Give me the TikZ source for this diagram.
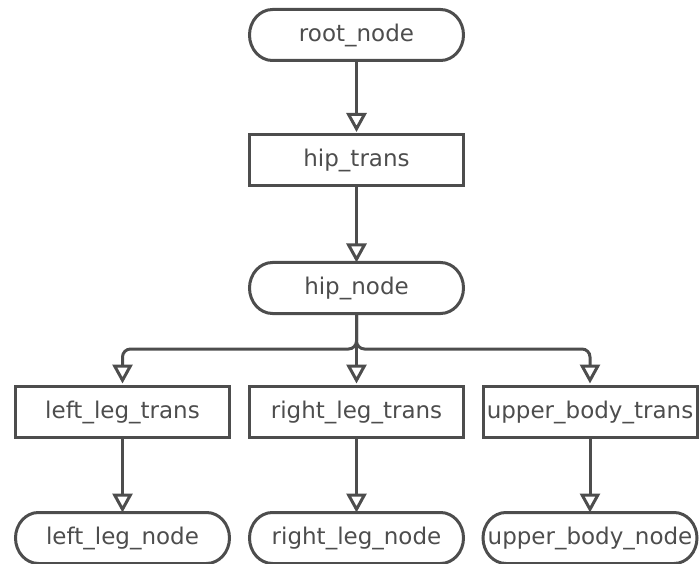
\documentclass[tikz,border=0pt]{standalone}
\usepackage{fontspec}
\setmainfont{DejaVu Sans}
\usetikzlibrary{arrows.meta,calc}
\definecolor{ink}{HTML}{4D4D4D}
\tikzset{
  box/.style={draw=ink, line width=3pt, minimum width=214pt, minimum height=51pt,
              inner sep=0pt, text=ink, font=\fontsize{23}{27}\selectfont},
  term/.style={box, draw=none, outer sep=0pt},
  link/.style={draw=ink, line width=3pt, rounded corners=8pt,
               -{Triangle[width=20pt, length=19pt, fill=white]}},
}
\begin{document}
\begin{tikzpicture}[x=1pt, y=1pt]
  \useasboundingbox (0,0) rectangle (699,-564);

  % nodes
  \node[term] (root) at (356.5,-35)    {root\_node};
  \node[box]  (hipt) at (356.5,-160.5) {hip\_trans};
  \node[term] (hipn) at (356.5,-288)   {hip\_node};
  \node[box]  (llt)  at (122.5,-412)   {left\_leg\_trans};
  \node[box]  (rlt)  at (356.5,-412)   {right\_leg\_trans};
  \node[box]  (ubt)  at (590,-412)     {upper\_body\_trans};
  \node[term] (lln)  at (122.5,-538)   {left\_leg\_node};
  \node[term] (rln)  at (356.5,-538)   {right\_leg\_node};
  \node[term] (ubn)  at (590,-538)     {upper\_body\_node};

  % stadium outlines for the terminal nodes
  \foreach \n in {root,hipn,lln,rln,ubn}
    \draw[draw=ink, line width=3pt]
      ($(\n.north west)+(23,0)$) -- ($(\n.north east)+(-23,0)$)
      arc[start angle=90, end angle=-90, x radius=23, y radius=25.5]
      -- ($(\n.south west)+(23,0)$)
      arc[start angle=270, end angle=90, x radius=23, y radius=25.5]
      -- cycle;

  % connectors
  \coordinate (split) at (356.5,-349);
  \draw[link] (root.south) -- ([yshift=1.5pt]hipt.north);
  \draw[link] (hipt) -- (hipn.north);
  \draw[link] (hipn.south) -- (split) -- (split -| llt) -- ([yshift=1.5pt]llt.north);
  \draw[link] (hipn.south) -- ([yshift=1.5pt]rlt.north);
  \draw[link] (hipn.south) -- (split) -- (split -| ubt) -- ([yshift=1.5pt]ubt.north);
  \draw[link] (llt) -- (lln.north);
  \draw[link] (rlt) -- (rln.north);
  \draw[link] (ubt) -- (ubn.north);
\end{tikzpicture}
\end{document}
